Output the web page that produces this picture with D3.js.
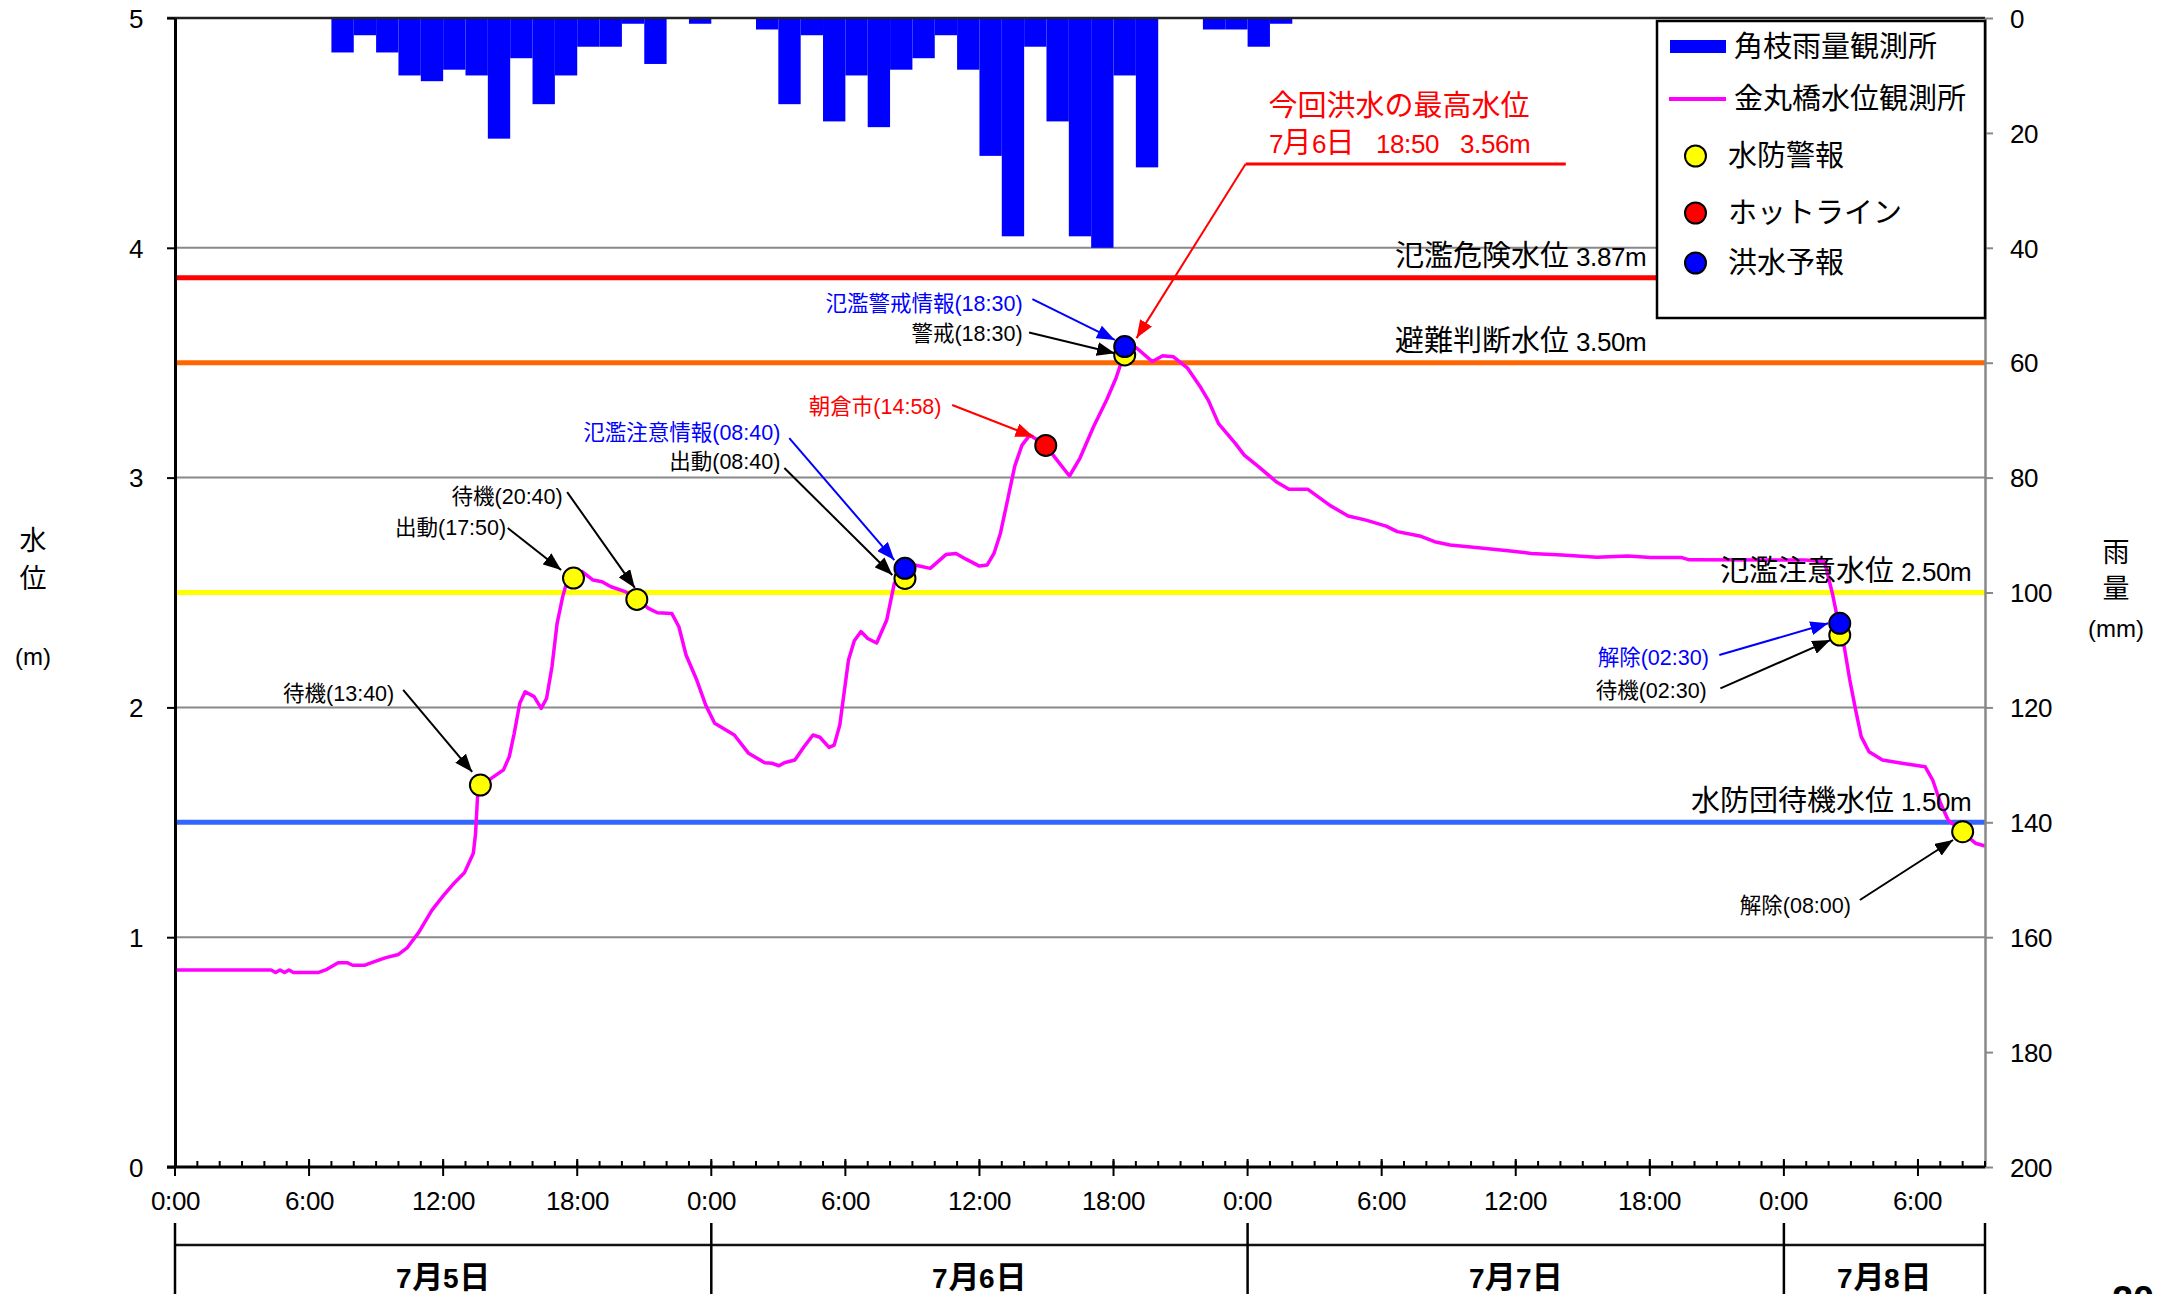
<!DOCTYPE html>
<html><head><meta charset="utf-8">
<script src="https://cdn.jsdelivr.net/npm/d3@7"></script>
<style>
@font-face{font-family:'LatinAdj';src:local('Liberation Sans'),local('LiberationSans');font-weight:normal;size-adjust:90%;}
@font-face{font-family:'LatinAdj';src:local('Liberation Sans Bold'),local('LiberationSans-Bold');font-weight:bold;size-adjust:90%;}
body{margin:0;background:#fff;}
svg{display:block;background:#fff;}
.big{font-family:'LatinAdj','Liberation Sans','Noto Sans CJK JP',sans-serif;font-size:29px;}
.ann{font-family:'Liberation Sans','Noto Sans CJK JP',sans-serif;font-size:21.5px;}
</style>
</head><body>
<svg id="c" width="2166" height="1294"></svg>
<script>
// ---------------- DATA ----------------
// hours counted from 7/5 0:00
const rainValues = [0,0,0,0,0,0,0,6,3,6,10,11,9,10,21,7,15,10,5,5,1,8,0,1,
  0,0,2,15,3,18,10,19,9,7,3,9,24,38,5,18,38,40,10,26,0,0,2,2,5,1,
  0,0,0,0,0,0,0,0,0,0,0,0,0,0,0,0,0,0,0,0,0,0,0,0,0,0,0,0,0,0,0];
const waterLevel = [[0,0.857],[4.3,0.857],[4.5,0.846],[4.7,0.857],[4.9,0.846],[5.1,0.857],[5.3,0.846],[6.4,0.846],[6.8,0.86],[7.3,0.889],[7.7,0.889],[7.95,0.878],[8.5,0.878],[8.8,0.889],[9.4,0.91],[10.0,0.925],[10.4,0.955],[10.9,1.02],[11.5,1.118],[12.0,1.18],[12.5,1.236],[12.95,1.28],[13.35,1.365],[13.45,1.45],[13.55,1.63],[13.67,1.662],[14.15,1.691],[14.7,1.728],[14.96,1.786],[15.18,1.887],[15.43,2.018],[15.67,2.068],[16.07,2.047],[16.39,1.996],[16.63,2.04],[16.87,2.177],[17.1,2.366],[17.35,2.482],[17.6,2.569],[17.83,2.58],[18.22,2.591],[18.71,2.554],[19.11,2.547],[19.51,2.525],[20.15,2.504],[20.67,2.47],[21.19,2.431],[21.59,2.412],[22.23,2.409],[22.55,2.351],[22.87,2.228],[23.35,2.119],[23.75,2.01],[24.15,1.931],[25.03,1.88],[25.67,1.8],[26.39,1.759],[26.71,1.757],[27.03,1.746],[27.27,1.759],[27.74,1.771],[28.15,1.829],[28.55,1.88],[28.86,1.87],[29.27,1.826],[29.5,1.836],[29.75,1.923],[29.9,2.032],[30.14,2.206],[30.4,2.29],[30.7,2.33],[31.0,2.3],[31.4,2.28],[31.85,2.38],[32.19,2.54],[32.67,2.58],[33.1,2.62],[33.8,2.605],[34.5,2.665],[34.95,2.67],[35.4,2.645],[36.0,2.615],[36.35,2.62],[36.65,2.67],[36.94,2.758],[37.26,2.903],[37.58,3.05],[37.9,3.14],[38.25,3.185],[38.97,3.14],[39.4,3.085],[40.03,3.007],[40.5,3.085],[41.1,3.22],[41.7,3.34],[42.1,3.43],[42.5,3.545],[43.02,3.565],[43.74,3.505],[44.2,3.53],[44.67,3.526],[45.3,3.478],[45.85,3.4],[46.25,3.335],[46.7,3.235],[47.45,3.149],[47.85,3.098],[48.5,3.047],[49.28,2.982],[49.85,2.949],[50.7,2.949],[51.7,2.878],[52.5,2.833],[53.3,2.815],[54.2,2.789],[54.7,2.765],[55.7,2.746],[56.37,2.721],[57.06,2.707],[58.1,2.697],[59.66,2.682],[60.69,2.67],[62.07,2.663],[63.63,2.653],[65.01,2.659],[66.04,2.652],[67.43,2.652],[67.77,2.642],[72.96,2.641],[73.82,2.634],[74.17,2.496],[74.5,2.34],[74.7,2.264],[74.95,2.119],[75.21,1.989],[75.46,1.873],[75.81,1.807],[76.41,1.771],[77.28,1.757],[78.32,1.742],[78.66,1.684],[79.01,1.583],[79.35,1.51],[79.96,1.459],[80.57,1.409],[81,1.397]];

const alertHours = [13.667, 17.833, 20.667, 32.667, 42.5, 74.5, 80.0];   // 水防警報
const alertLevels = [1.662, 2.563, 2.47, 2.561, 3.534, 2.315, 1.459];
const hotlineHours = [38.967];                                            // ホットライン
const hotlineLevels = [3.14];
const forecastHours = [32.667, 42.5, 74.5];                               // 洪水予報
const forecastLevels = [2.605, 3.57, 2.366];

const thresholdValues = [3.87, 3.50, 2.50, 1.50];
const thresholdNames = ['氾濫危険水位 3.87m','避難判断水位 3.50m','氾濫注意水位 2.50m','水防団待機水位 1.50m'];
const thresholdColors = ['#FF0000','#FF6600','#FFFF00','#3366FF'];

const leftTicks = [0,1,2,3,4,5];
const rightTicks = [0,20,40,60,80,100,120,140,160,180,200];
const timeTickLabels = ['0:00','6:00','12:00','18:00'];
const dayLabels = ['7月5日','7月6日','7月7日','7月8日'];
const dayStarts = [0,24,48,72];
const dayEnds = [24,48,72,81];

const legendLabels = ['角枝雨量観測所','金丸橋水位観測所','水防警報','ホットライン','洪水予報'];

// annotation texts; label anchor (t,v) at end of text; arrow from (t,v) to (t,v)
const annotations = [
  {text:'待機(13:40)', color:'#000', lt:9.81, lv:2.063, at:[10.21,2.076], bt:[13.30,1.719]},
  {text:'出動(17:50)', color:'#000', lt:14.82, lv:2.785, at:[14.89,2.781], bt:[17.28,2.598]},
  {text:'待機(20:40)', color:'#000', lt:17.35, lv:2.92, at:[17.55,2.937], bt:[20.58,2.52]},
  {text:'氾濫注意情報(08:40)', color:'#0000FF', lt:27.09, lv:3.198, at:[27.49,3.172], bt:[32.19,2.641]},
  {text:'出動(08:40)', color:'#000', lt:27.09, lv:3.072, at:[27.27,3.042], bt:[32.1,2.576]},
  {text:'朝倉市(14:58)', color:'#FF0000', lt:34.3, lv:3.312, at:[34.78,3.316], bt:[38.42,3.178]},
  {text:'氾濫警戒情報(18:30)', color:'#0000FF', lt:37.93, lv:3.76, at:[38.37,3.777], bt:[42.06,3.599]},
  {text:'警戒(18:30)', color:'#000', lt:37.93, lv:3.63, at:[38.22,3.631], bt:[42.06,3.541]},
  {text:'解除(02:30)', color:'#0000FF', lt:68.64, lv:2.219, at:[69.11,2.228], bt:[73.99,2.366]},
  {text:'待機(02:30)', color:'#000', lt:68.55, lv:2.073, at:[69.16,2.083], bt:[74.08,2.293]},
  {text:'解除(08:00)', color:'#000', lt:75.0, lv:1.14, at:[75.4,1.162], bt:[79.57,1.423]}
];
const peakLines = ['今回洪水の最高水位','7月6日   18:50   3.56m'];
const peakLayout = {t:48.94, v1:4.617, v2:4.46, ulFrom:47.91, ulTo:62.24, ulV:4.365, tip:[43.03,3.607]};

// ---------------- CHART ----------------
const svg = d3.select('#c');
const L=175, R=1985, T=18, B=1167;
const x = d3.scaleLinear().domain([0,81]).range([L,R]);
const y = d3.scaleLinear().domain([0,5]).range([B,T]);
const yR = d3.scaleLinear().domain([0,200]).range([T,B]);
const cy = (c,fs)=> c + 0.36*fs;

const defs = svg.append('defs');
[['black','#000'],['blue','#0000FF'],['red','#FF0000']].forEach(([n,c])=>{
  defs.append('marker').attr('id','ah-'+n).attr('markerUnits','userSpaceOnUse')
    .attr('markerWidth',18).attr('markerHeight',14).attr('refX',18).attr('refY',7)
    .attr('orient','auto').append('path').attr('d','M0,0 L18,7 L0,14 Z').attr('fill',c);
});
const ahFor = c => c==='#0000FF'?'url(#ah-blue)':(c==='#FF0000'?'url(#ah-red)':'url(#ah-black)');

// gridlines
svg.append('g').selectAll('line').data(leftTicks.filter(d=>d>0&&d<5)).join('line')
  .attr('x1',L).attr('x2',R).attr('y1',d=>y(d)).attr('y2',d=>y(d))
  .attr('stroke','#888').attr('stroke-width',2);

// rain bars
svg.append('g').selectAll('rect').data(rainValues.map((v,i)=>({i,v})).filter(d=>d.v>0)).join('rect')
  .attr('x',d=>x(d.i)).attr('width',d=>x(d.i+1)-x(d.i))
  .attr('y',yR(0)).attr('height',d=>yR(d.v)-yR(0)).attr('fill','#0000FF');

// thresholds
svg.append('g').selectAll('line').data(thresholdValues).join('line')
  .attr('x1',L).attr('x2',R).attr('y1',d=>y(d)).attr('y2',d=>y(d))
  .attr('stroke',(d,i)=>thresholdColors[i]).attr('stroke-width',5);

// water level line
svg.append('path').datum(waterLevel)
  .attr('d',d3.line().x(d=>x(d[0])).y(d=>y(d[1])))
  .attr('fill','none').attr('stroke','#FF00FF').attr('stroke-width',3.5).attr('stroke-linejoin','round');

// threshold labels
const legendLeft = 1657, legendBottom = 318;
svg.append('g').selectAll('text').data(thresholdValues).join('text').attr('class','big')
  .attr('text-anchor','end')
  .attr('x',d=> y(d) < legendBottom+60 ? legendLeft-10 : R-13)
  .attr('y',d=> cy(y(d)-22, 29))
  .attr('fill','#000')
  .text((d,i)=>thresholdNames[i]);

// markers
function drawMarkers(hours, levels, fill){
  svg.append('g').selectAll('circle').data(hours.map((h,i)=>[h,levels[i]])).join('circle')
    .attr('cx',d=>x(d[0])).attr('cy',d=>y(d[1])).attr('r',10.5)
    .attr('fill',fill).attr('stroke','#000').attr('stroke-width',2);
}
drawMarkers(alertHours, alertLevels, '#FFFF00');
drawMarkers(hotlineHours, hotlineLevels, '#FF0000');
drawMarkers(forecastHours, forecastLevels, '#0000FF');

// annotations
const ag = svg.append('g');
annotations.forEach(a=>{
  ag.append('text').attr('class','ann').attr('text-anchor','end')
    .attr('x',x(a.lt)).attr('y',cy(y(a.lv),21.5)).attr('fill',a.color).text(a.text);
  ag.append('line').attr('x1',x(a.at[0])).attr('y1',y(a.at[1]))
    .attr('x2',x(a.bt[0])).attr('y2',y(a.bt[1]))
    .attr('stroke',a.color).attr('stroke-width',2).attr('marker-end',ahFor(a.color));
});

// peak annotation
const pg = svg.append('g');
pg.append('text').attr('class','big').attr('fill','#FF0000')
  .attr('x',x(peakLayout.t)).attr('y',cy(y(peakLayout.v1),29)).text(peakLines[0]);
pg.append('text').attr('class','big').attr('fill','#FF0000').style('white-space','pre')
  .attr('x',x(peakLayout.t)).attr('y',cy(y(peakLayout.v2),29)).text(peakLines[1]);
pg.append('line').attr('x1',x(peakLayout.ulFrom)).attr('x2',x(peakLayout.ulTo))
  .attr('y1',y(peakLayout.ulV)).attr('y2',y(peakLayout.ulV)).attr('stroke','#FF0000').attr('stroke-width',3);
pg.append('line').attr('x1',x(peakLayout.ulFrom)).attr('y1',y(peakLayout.ulV))
  .attr('x2',x(peakLayout.tip[0])).attr('y2',y(peakLayout.tip[1]))
  .attr('stroke','#FF0000').attr('stroke-width',2).attr('marker-end','url(#ah-red)');

// top border
svg.append('line').attr('x1',L-8).attr('x2',R).attr('y1',T).attr('y2',T).attr('stroke','#222').attr('stroke-width',2.5);

// left axis
const la = svg.append('g').attr('transform',`translate(${L},0)`)
  .call(d3.axisLeft(y).tickValues(leftTicks).tickSize(8).tickSizeOuter(0).tickPadding(24).tickFormat(d3.format('d')));
la.select('.domain').attr('stroke','#000').attr('stroke-width',3);
la.selectAll('.tick line').attr('stroke','#000').attr('stroke-width',2);
la.selectAll('.tick text').attr('class','big').attr('fill','#000');
la.attr('font-family',null).attr('font-size',null);

// right axis
const ra = svg.append('g').attr('transform',`translate(${R},0)`)
  .call(d3.axisRight(yR).tickValues(rightTicks).tickSize(8).tickSizeOuter(0).tickPadding(17).tickFormat(d3.format('d')));
ra.select('.domain').attr('stroke','#888').attr('stroke-width',2.5);
ra.selectAll('.tick line').attr('stroke','#888').attr('stroke-width',2);
ra.selectAll('.tick text').attr('class','big').attr('fill','#000');
ra.attr('font-family',null).attr('font-size',null);

// bottom axis
const bx = svg.append('g');
bx.selectAll('line.minor').data(d3.range(0,82,1)).join('line').attr('class','minor')
  .attr('x1',d=>x(d)).attr('x2',d=>x(d)).attr('y1',B-6).attr('y2',B).attr('stroke','#000').attr('stroke-width',2);
const majors = d3.range(0,79,6);
bx.selectAll('line.major').data(majors).join('line').attr('class','major')
  .attr('x1',d=>x(d)).attr('x2',d=>x(d)).attr('y1',B-8).attr('y2',B+9).attr('stroke','#000').attr('stroke-width',2);
bx.append('line').attr('x1',L-8).attr('x2',R).attr('y1',B).attr('y2',B).attr('stroke','#000').attr('stroke-width',3);
bx.selectAll('text').data(majors).join('text').attr('class','big').attr('text-anchor','middle')
  .attr('x',d=>x(d)).attr('y',1210).attr('fill','#000')
  .text(d=>timeTickLabels[(d%24)/6]);

// day band
const db = svg.append('g');
db.append('line').attr('x1',L).attr('x2',R).attr('y1',1245).attr('y2',1245).attr('stroke','#111').attr('stroke-width',2.5);
db.selectAll('line.sep').data(dayStarts.concat([81])).join('line').attr('class','sep')
  .attr('x1',d=>x(d)).attr('x2',d=>x(d)).attr('y1',1223).attr('y2',1294).attr('stroke','#000').attr('stroke-width',2.5);
db.selectAll('text').data(dayLabels).join('text').attr('class','big')
  .attr('font-weight','bold').style('font-size','31px').attr('text-anchor','middle')
  .attr('x',(d,i)=>x((dayStarts[i]+dayEnds[i])/2)).attr('y',1288).attr('fill','#000').text(d=>d);

// axis titles
const titleL = [['水',540],['位',578],['(m)',655]];
svg.append('g').selectAll('text').data(titleL).join('text').attr('class','big').style('font-size','27px')
  .attr('text-anchor','middle').attr('x',33).attr('y',d=>cy(d[1],27)).text(d=>d[0]);
const titleR = [['雨',552],['量',588],['(mm)',627]];
svg.append('g').selectAll('text').data(titleR).join('text').attr('class','big').style('font-size','27px')
  .attr('text-anchor','middle').attr('x',2116).attr('y',d=>cy(d[1],27)).text(d=>d[0]);

// legend
const lg = svg.append('g');
lg.append('rect').attr('x',legendLeft).attr('y',21).attr('width',R-legendLeft).attr('height',legendBottom-21)
  .attr('fill','#fff').attr('stroke','#000').attr('stroke-width',2.5);
lg.append('rect').attr('x',1670).attr('y',40).attr('width',56).attr('height',13).attr('fill','#0000FF');
lg.append('line').attr('x1',1669).attr('x2',1726).attr('y1',99).attr('y2',99).attr('stroke','#FF00FF').attr('stroke-width',4);
const legendCY = [47,99,156,213,263];
const legendSym = [null,null,'#FFFF00','#FF0000','#0000FF'];
legendLabels.forEach((t,i)=>{
  if(legendSym[i]) lg.append('circle').attr('cx',1695.5).attr('cy',legendCY[i]).attr('r',10.5)
    .attr('fill',legendSym[i]).attr('stroke','#000').attr('stroke-width',2);
  lg.append('text').attr('class','big').attr('x',i<2?1734:1728).attr('y',cy(legendCY[i],29)).text(t);
});

// page number (cut off at bottom, as on the slide)
svg.append('text').attr('class','big').attr('font-weight','bold').style('font-size','42px')
  .attr('x',2112).attr('y',1312).attr('fill','#000').text('20');
</script>
</body></html>
